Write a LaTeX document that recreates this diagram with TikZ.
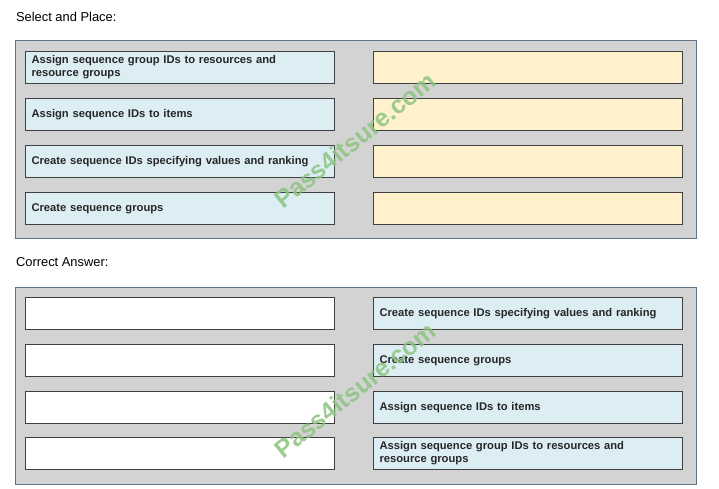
\documentclass[tikz,border=0pt]{standalone}
\usepackage{fontspec}
\setmainfont{Liberation Sans}
\definecolor{panelgray}{RGB}{211,211,212}
\definecolor{panelline}{RGB}{96,116,136}
\definecolor{itemblue}{RGB}{220,237,244}
\definecolor{slotyellow}{RGB}{254,241,204}
\definecolor{wmgreen}{RGB}{140,196,128}

\begin{document}
\begin{tikzpicture}[x=1pt,y=-1pt,
  panel/.style={draw=panelline, fill=panelgray, line width=1pt, anchor=north west,
    minimum width=681pt, inner sep=0pt},
  item/.style={draw=black!75, fill=itemblue, line width=1pt, anchor=north west,
    minimum width=309pt, minimum height=32pt, text width=297pt, inner xsep=6pt,
    align=left, text=black!85, font=\fontsize{11.2}{13.2}\selectfont\bfseries},
  slot/.style={item, fill=slotyellow},
  blank/.style={item, fill=white},
  wmark/.style={text=wmgreen, opacity=0.85, rotate=39, font=\fontsize{25}{27}\selectfont\bfseries}]
\useasboundingbox (0,0) rectangle (719,488);

% select and place
\node[anchor=west, font=\fontsize{12.9}{15}\selectfont] (selhead) at (12.5,17) {Select and Place:};
\node[panel, minimum height=198pt] (selpanel) at (15,40) {};
\node[item] (sel1) at (25,51) {Assign sequence group IDs to resources and\\resource groups};
\node[item] (sel2) at (25,98) {Assign sequence IDs to items};
\node[item] (sel3) at (25,145) {Create sequence IDs specifying values and ranking};
\node[item] (sel4) at (25,192) {Create sequence groups};
\node[slot] (slot1) at (373,51) {};
\node[slot] (slot2) at (373,98) {};
\node[slot] (slot3) at (373,145) {};
\node[slot] (slot4) at (373,192) {};
\node[wmark] (wm1) at (355,140) {Pass4itsure.com};

% correct answer
\node[anchor=west, font=\fontsize{12.9}{15}\selectfont] (anshead) at (12.5,262) {Correct Answer:};
\node[panel, minimum height=197pt] (anspanel) at (15,287) {};
\node[blank] (blank1) at (25,297) {};
\node[blank] (blank2) at (25,344) {};
\node[blank] (blank3) at (25,391) {};
\node[blank] (blank4) at (25,437) {};
\node[item] (ans1) at (373,297) {Create sequence IDs specifying values and ranking};
\node[item] (ans2) at (373,344) {Create sequence groups};
\node[item] (ans3) at (373,391) {Assign sequence IDs to items};
\node[item] (ans4) at (373,437) {Assign sequence group IDs to resources and\\resource groups};
\node[wmark] (wm2) at (355,390) {Pass4itsure.com};
\end{tikzpicture}
\end{document}
